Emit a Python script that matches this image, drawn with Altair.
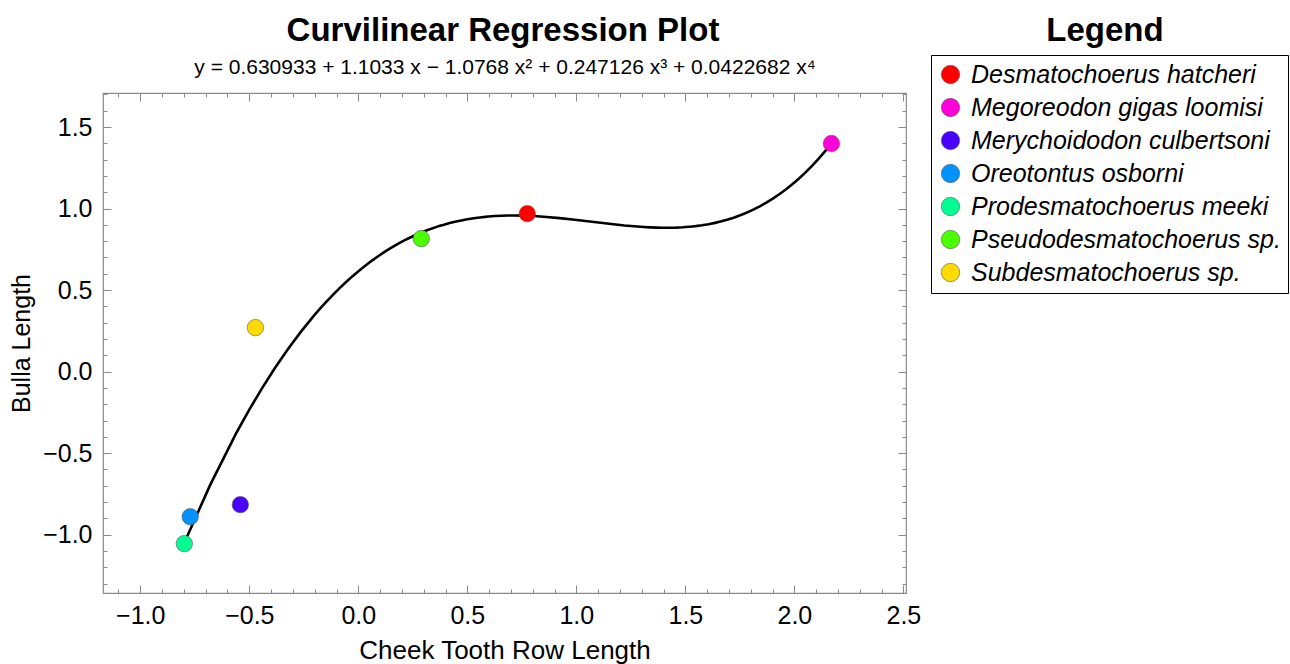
import altair as alt
import pandas as pd

# ---- data ----
species = [
    "Desmatochoerus hatcheri",
    "Megoreodon gigas loomisi",
    "Merychoidodon culbertsoni",
    "Oreotontus osborni",
    "Prodesmatochoerus meeki",
    "Pseudodesmatochoerus sp.",
    "Subdesmatochoerus sp.",
]
cheek = [0.775, 2.170, -0.541, -0.771, -0.798, 0.289, -0.472]
bulla = [0.969, 1.399, -0.816, -0.890, -1.055, 0.816, 0.270]
colors = ["#FF0000", "#FF00DB", "#4900FF", "#0092FF", "#00FF92", "#49FF00", "#FFDA00"]

x_major = [-1.0, -0.5, 0.0, 0.5, 1.0, 1.5, 2.0, 2.5]
y_major = [-1.0, -0.5, 0.0, 0.5, 1.0, 1.5]
x_ticks = [round(i / 10, 1) for i in range(-11, 26)]
y_ticks = [round(i / 10, 1) for i in range(-13, 18)]

title_text = ["Curvilinear Regression Plot"]
equation = ["y = 0.630933 + 1.1033 x \u2212 1.0768 x\u00b2 + 0.247126 x\u00b3 + 0.0422682 x\u2074"]
legend_heading = ["Legend"]

df = pd.DataFrame({"species": species, "cheek": cheek, "bulla": bulla})

FONT = "Liberation Sans"
GRAY = "#8a8a8a"
W, H = 803, 500

xs = alt.Scale(domain=[-1.171, 2.512], nice=False, zero=False)
ys = alt.Scale(domain=[-1.358, 1.709], nice=False, zero=False)

major_test = "abs(datum.value * 2 - round(datum.value * 2)) < 0.001"
tick_size = {"condition": {"test": major_test, "value": 8}, "value": 4}


def tick_axis(orient, offset, values):
    return alt.Axis(orient=orient, offset=offset, values=values, labels=False,
                    domain=False, grid=False, title=None, ticks=True,
                    tickColor=GRAY, tickWidth=1, tickSize=tick_size)


x_lab = alt.Axis(orient="bottom", values=x_major, format=".1f", ticks=False,
                 domain=False, grid=False, labelFontSize=25, labelFont=FONT,
                 labelColor="black", labelPadding=10, labelFlush=False,
                 title="Cheek Tooth Row Length", titleFontSize=26, titleFont=FONT,
                 titleFontWeight="normal", titleColor="black", titlePadding=9)
y_lab = alt.Axis(orient="left", values=y_major, format=".1f", ticks=False,
                 domain=False, grid=False, labelFontSize=25, labelFont=FONT,
                 labelColor="black", labelPadding=11,
                 title="Bulla Length", titleFontSize=25, titleFont=FONT,
                 titleFontWeight="normal", titleColor="black", titlePadding=8)

base = alt.Chart(df)

curve = base.transform_regression(
    "cheek", "bulla", method="poly", order=4
).mark_line(color="black", strokeWidth=2.6).encode(
    x=alt.X("cheek:Q", scale=xs, axis=tick_axis("top", -H, x_ticks)),
    y=alt.Y("bulla:Q", scale=ys, axis=tick_axis("right", -W, y_ticks)),
)

frame_ticks = base.mark_point(opacity=0).encode(
    x=alt.X("cheek:Q", scale=xs, axis=tick_axis("bottom", -H, x_ticks)),
    y=alt.Y("bulla:Q", scale=ys, axis=tick_axis("left", -W, y_ticks)),
)

points = base.mark_circle(size=270, opacity=1, stroke="#555555", strokeWidth=0.6).encode(
    x=alt.X("cheek:Q", scale=xs, axis=x_lab),
    y=alt.Y("bulla:Q", scale=ys, axis=y_lab),
    color=alt.Color(
        "species:N",
        scale=alt.Scale(domain=species, range=colors),
        legend=alt.Legend(
            title=None, orient="none", legendX=828, legendY=-38,
            strokeColor="black", fillColor="white", padding=7,
            labelFont=FONT, labelFontSize=25, labelFontStyle="italic",
            labelColor="black", labelOffset=8, labelLimit=600,
            symbolType="circle", symbolSize=340, symbolOpacity=1,
            symbolStrokeColor="#555555", symbolStrokeWidth=0.6,
            rowPadding=7,
        ),
    ),
)


def text_layer(values, size, weight, x, y):
    return alt.Chart(pd.DataFrame({"t": values})).mark_text(
        font=FONT, fontSize=size, fontWeight=weight, color="black",
        align="center", baseline="middle",
    ).encode(text="t:N", x=alt.value(x), y=alt.value(y))


title_mark = text_layer(title_text, 33, "bold", 400, -62)
subtitle_mark = text_layer(equation, 21, "normal", 402, -25)
legend_title = text_layer(legend_heading, 33, "bold", 1002, -62)

chart = alt.layer(
    curve, frame_ticks, points, title_mark, subtitle_mark, legend_title
).resolve_axis(
    x="independent", y="independent"
).properties(
    width=W, height=H,
    padding={"left": 103, "top": 93, "right": 384, "bottom": 71},
    autosize="none",
    background="white",
).configure_view(stroke=GRAY, strokeWidth=1.2)

chart.save("out.html", embed_options={"renderer": "svg", "actions": False})
